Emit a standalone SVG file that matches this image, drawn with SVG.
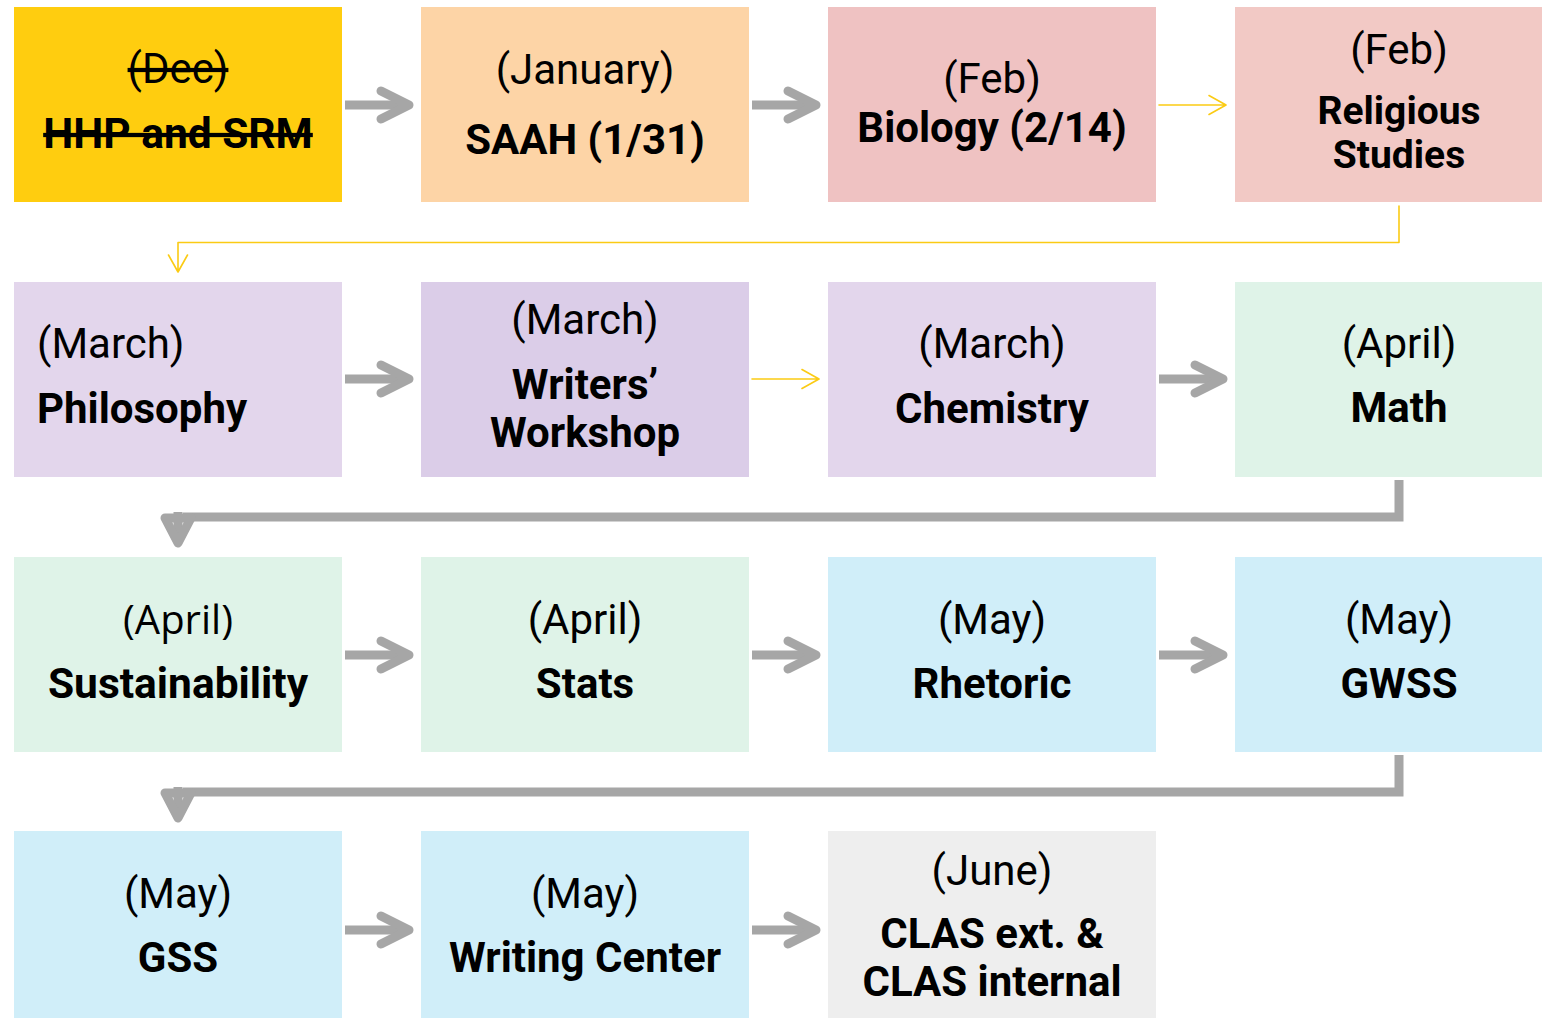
<svg xmlns="http://www.w3.org/2000/svg" width="1542" height="1018" viewBox="0 0 1542 1018">
<style>
.m{font-family:Roboto,"Liberation Sans",sans-serif;font-size:42px;fill:#000;text-anchor:middle}
.b{font-family:Roboto,"Liberation Sans",sans-serif;font-size:42px;font-weight:bold;fill:#000;text-anchor:middle}
.g{fill:none;stroke:#A6A6A6;stroke-width:9;stroke-linecap:round;stroke-linejoin:round}
.gs{fill:none;stroke:#A6A6A6;stroke-width:9;stroke-linecap:butt}
.y{fill:none;stroke:#FBCB14;stroke-width:1.6;stroke-linecap:round;stroke-linejoin:round}
</style>
<rect width="1542" height="1018" fill="#fff"/>
<g id="n-hhp"><rect x="14" y="7" width="328" height="195" fill="#FFCD0F"/>
<text class="m" x="178" y="83" text-decoration="line-through">(Dec)</text>
<text class="b" x="178" y="148" text-decoration="line-through" style="font-size:42.5px">HHP and SRM</text></g>
<g id="n-saah"><rect x="421" y="7" width="328" height="195" fill="#FDD4A6"/>
<text class="m" x="585" y="84">(January)</text>
<text class="b" x="585" y="154">SAAH (1/31)</text></g>
<g id="n-bio"><rect x="828" y="7" width="328" height="195" fill="#EFC2C2"/>
<text class="m" x="992" y="93">(Feb)</text>
<text class="b" x="992" y="142">Biology (2/14)</text></g>
<g id="n-rel"><rect x="1235" y="7" width="307" height="195" fill="#F2C9C5"/>
<text class="m" x="1399" y="64">(Feb)</text>
<text class="b" x="1399" y="124" style="font-size:39px">Religious</text>
<text class="b" x="1399" y="168" style="font-size:39px">Studies</text></g>

<g id="n-phil"><rect x="14" y="282" width="328" height="195" fill="#E3D6EC"/>
<text class="m" x="37" y="358" style="text-anchor:start">(March)</text>
<text class="b" x="37" y="423" style="text-anchor:start">Philosophy</text></g>
<g id="n-ww"><rect x="421" y="282" width="328" height="195" fill="#DBCDE8"/>
<text class="m" x="585" y="334">(March)</text>
<text class="b" x="585" y="399">Writers’</text>
<text class="b" x="585" y="447">Workshop</text></g>
<g id="n-chem"><rect x="828" y="282" width="328" height="195" fill="#E3D6EC"/>
<text class="m" x="992" y="358">(March)</text>
<text class="b" x="992" y="423">Chemistry</text></g>
<g id="n-math"><rect x="1235" y="282" width="307" height="195" fill="#DFF3E8"/>
<text class="m" x="1399" y="358">(April)</text>
<text class="b" x="1399" y="422">Math</text></g>

<g id="n-sus"><rect x="14" y="557" width="328" height="195" fill="#DFF3E8"/>
<text class="m" x="178" y="634" style="font-family:'Open Sans',Roboto,sans-serif;font-size:40px">(April)</text>
<text class="b" x="178" y="698" style="font-size:42.5px">Sustainability</text></g>
<g id="n-stats"><rect x="421" y="557" width="328" height="195" fill="#DFF3E8"/>
<text class="m" x="585" y="634">(April)</text>
<text class="b" x="585" y="698">Stats</text></g>
<g id="n-rhet"><rect x="828" y="557" width="328" height="195" fill="#D0EEF9"/>
<text class="m" x="992" y="634">(May)</text>
<text class="b" x="992" y="698">Rhetoric</text></g>
<g id="n-gwss"><rect x="1235" y="557" width="307" height="195" fill="#D0EEF9"/>
<text class="m" x="1399" y="634">(May)</text>
<text class="b" x="1399" y="698">GWSS</text></g>

<g id="n-gss"><rect x="14" y="831" width="328" height="187" fill="#D0EEF9"/>
<text class="m" x="178" y="908">(May)</text>
<text class="b" x="178" y="972">GSS</text></g>
<g id="n-wc"><rect x="421" y="831" width="328" height="187" fill="#D0EEF9"/>
<text class="m" x="585" y="908">(May)</text>
<text class="b" x="585" y="972">Writing Center</text></g>
<g id="n-clas"><rect x="828" y="831" width="328" height="187" fill="#EEEEEE"/>
<text class="m" x="992" y="885">(June)</text>
<text class="b" x="992" y="948">CLAS ext. &amp;</text>
<text class="b" x="992" y="996">CLAS internal</text></g>

<g id="connectors">
<path class="gs" d="M345,105H408"/><path class="g" d="M381,91L409,105L381,119"/>
<path class="gs" d="M752,105H815"/><path class="g" d="M788,91L816,105L788,119"/>
<path class="y" d="M1159,105H1226M1209,95.5L1226,105L1209,114.5"/>
<path class="y" d="M1399,206V242.5H178V271M168.5,255L178,272L187.5,255"/>
<path class="gs" d="M345,379H408"/><path class="g" d="M381,365L409,379L381,393"/>
<path class="y" d="M752,379H819M802,369.5L819,379L802,388.5"/>
<path class="gs" d="M1159,379H1222"/><path class="g" d="M1195,365L1223,379L1195,393"/>
<path class="gs" d="M1399,480V517H183"/><path class="gs" d="M178,512V540"/><path class="g" d="M165,518L178,543L191,518Z" fill="#A6A6A6"/>
<path class="gs" d="M345,655H408"/><path class="g" d="M381,641L409,655L381,669"/>
<path class="gs" d="M752,655H815"/><path class="g" d="M788,641L816,655L788,669"/>
<path class="gs" d="M1159,655H1222"/><path class="g" d="M1195,641L1223,655L1195,669"/>
<path class="gs" d="M1399,755V792H183"/><path class="gs" d="M178,787V815"/><path class="g" d="M165,793L178,818L191,793Z" fill="#A6A6A6"/>
<path class="gs" d="M345,930H408"/><path class="g" d="M381,916L409,930L381,944"/>
<path class="gs" d="M752,930H815"/><path class="g" d="M788,916L816,930L788,944"/>
</g>
</svg>
